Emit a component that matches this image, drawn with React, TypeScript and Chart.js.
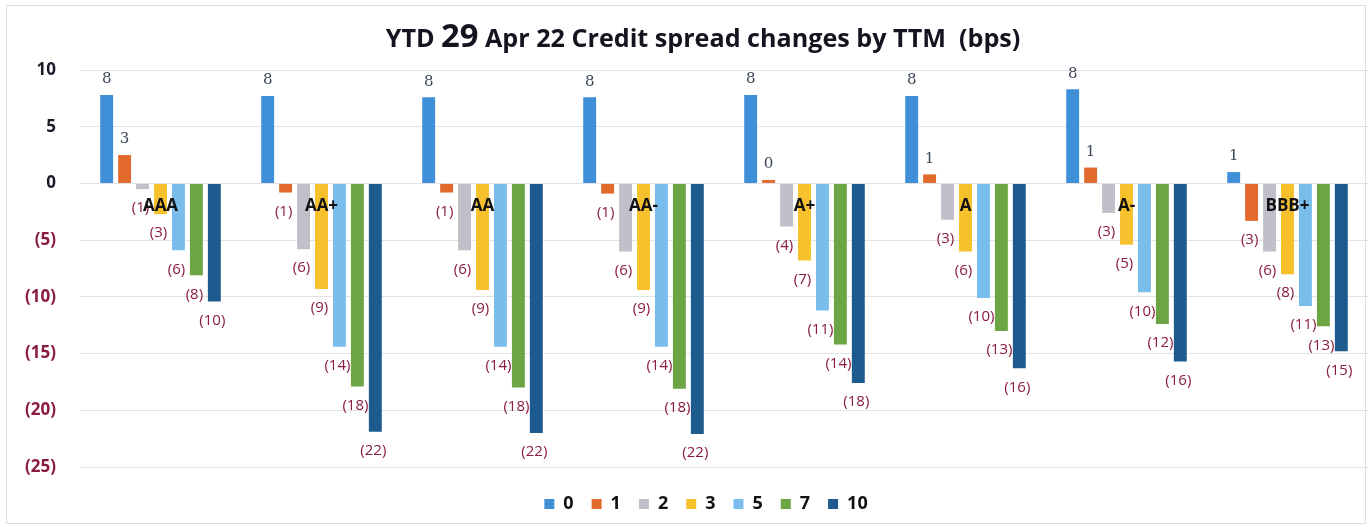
import React, { useEffect, useRef } from "react";
import { Chart, registerables } from "chart.js";

Chart.register(...registerables);

const categories = ["AAA", "AA+", "AA", "AA-", "A+", "A", "A-", "BBB+"];
const seriesNames = ["0", "1", "2", "3", "5", "7", "10"];
const s0 = [7.8, 7.7, 7.6, 7.6, 7.8, 7.7, 8.3, 1.0];
const s1 = [2.5, -0.8, -0.8, -0.9, 0.3, 0.8, 1.4, -3.3];
const s2 = [-0.5, -5.8, -5.9, -6.0, -3.8, -3.2, -2.6, -6.0];
const s3 = [-2.7, -9.3, -9.4, -9.4, -6.8, -6.0, -5.4, -8.0];
const s5 = [-5.9, -14.4, -14.4, -14.4, -11.2, -10.1, -9.6, -10.8];
const s7 = [-8.1, -17.9, -18.0, -18.1, -14.2, -13.0, -12.4, -12.6];
const s10 = [-10.4, -21.9, -22.0, -22.1, -17.6, -16.3, -15.7, -14.8];
const seriesColors = ["#3f8fd9", "#e2692c", "#bfc0c9", "#f6c12d", "#78bdec", "#6ba544", "#1d5b8e"];
const titleParts = ["YTD ", "29", " Apr 22 Credit spread changes by TTM  (bps)"];

const MAROON = "#8a1c40";
const DARK = "#1b1b2b";

const fmt = (v: number) => {
  const r = Math.round(Math.abs(v));
  return v < 0 ? `(${r})` : `${r}`;
};

export default function App() {
  const ref = useRef<HTMLCanvasElement | null>(null);
  useEffect(() => {
    if (!ref.current) return;
    const all = [s0, s1, s2, s3, s5, s7, s10];
    const bgPlugin = {
      id: "bg",
      afterLayout(chart: any) {
        const lg = chart.legend;
        if (lg) {
          lg.left += 18;
          lg.right += 18;
          lg.top += 10;
          lg.bottom += 10;
        }
      },
      beforeDraw(chart: any) {
        const c = chart.ctx;
        c.save();
        c.fillStyle = "#ffffff";
        c.fillRect(0, 0, chart.width, chart.height);
        c.strokeStyle = "#dcdce2";
        c.lineWidth = 1;
        c.strokeRect(6.5, 5.5, chart.width - 12, chart.height - 9);
        c.restore();
      },
      afterDraw(chart: any) {
        const c = chart.ctx;
        c.save();
        const fam = "'Open Sans', sans-serif";
        const ratio = [1, 1.3, 1];
        let base = 19;
        let total = 0;
        titleParts.forEach((t, i) => {
          c.font = `bold ${base * ratio[i]}px ${fam}`;
          total += c.measureText(t).width;
        });
        base = base * (635 / total);
        total = 0;
        const widths = titleParts.map((t, i) => {
          c.font = `bold ${base * ratio[i]}px ${fam}`;
          const w = c.measureText(t).width;
          total += w;
          return w;
        });
        let x = 703 - total / 2;
        c.fillStyle = "#141420";
        c.textBaseline = "alphabetic";
        c.textAlign = "left";
        titleParts.forEach((t, i) => {
          c.font = `bold ${base * ratio[i]}px ${fam}`;
          c.fillText(t, x, 47);
          x += widths[i];
        });
        c.restore();
      },
    };
    const labelPlugin = {
      id: "vlabels",
      afterDatasetsDraw(chart: any) {
        const c = chart.ctx;
        c.save();
        c.textAlign = "center";
        chart.data.datasets.forEach((ds: any, di: number) => {
          const meta = chart.getDatasetMeta(di);
          meta.data.forEach((el: any, i: number) => {
            const v = ds.data[i];
            if (v >= 0) {
              c.font = "15px 'DejaVu Serif', serif";
              c.fillStyle = "#3a4656";
              c.textBaseline = "bottom";
              c.fillText(fmt(v), el.x, el.y - 8);
            } else {
              c.font = "15px 'Open Sans', sans-serif";
              c.fillStyle = MAROON;
              c.textBaseline = "middle";
              c.fillText(fmt(v), el.x - 2, el.y + 19);
            }
          });
        });
        c.restore();
      },
    };
    const chart = new Chart(ref.current, {
      type: "bar",
      data: {
        labels: categories,
        datasets: seriesNames.map((n, i) => ({
          label: n,
          data: all[i],
          backgroundColor: seriesColors[i],
          borderWidth: 0,
          categoryPercentage: 0.78,
          barPercentage: 0.72,
        })),
      },
      options: {
        animation: false,
        responsive: false,
        maintainAspectRatio: false,
        layout: { padding: { top: 70, left: 8, right: 3, bottom: 14 } },
        plugins: {
          title: { display: false },
          tooltip: { enabled: false },
          legend: {
            position: "bottom",
            labels: {
              boxWidth: 10,
              boxHeight: 10,
              padding: 18,
              color: "#111111",
              font: { family: "'Open Sans', sans-serif", size: 18, weight: "bold" },
            },
          },
        },
        scales: {
          x: {
            position: { y: 0 } as any,
            grid: { display: false, drawTicks: false },
            border: { display: false },
            ticks: {
              z: 1,
              padding: 13,
              color: "#111111",
              font: { family: "'Open Sans', sans-serif", size: 17, weight: "bold" },
            },
          },
          y: {
            min: -25,
            max: 10,
            afterFit: (s: any) => {
              s.width = 72;
            },
            grid: { color: "#e2e2e6", drawTicks: false },
            border: { display: false },
            ticks: {
              stepSize: 5,
              padding: 24,
              font: { family: "'Open Sans', sans-serif", size: 17, weight: "bold" },
              color: (ctx: any) => (ctx.tick && ctx.tick.value < 0 ? MAROON : DARK),
              callback: (v: any) => fmt(Number(v)),
            },
          },
        },
      },
      plugins: [bgPlugin, labelPlugin],
    });
    return () => chart.destroy();
  }, []);
  return (
    <div style={{ position: "fixed", left: 0, top: 0, width: 1371, height: 527 }}>
      <canvas ref={ref} width={1371} height={527} style={{ width: 1371, height: 527 }} />
    </div>
  );
}
